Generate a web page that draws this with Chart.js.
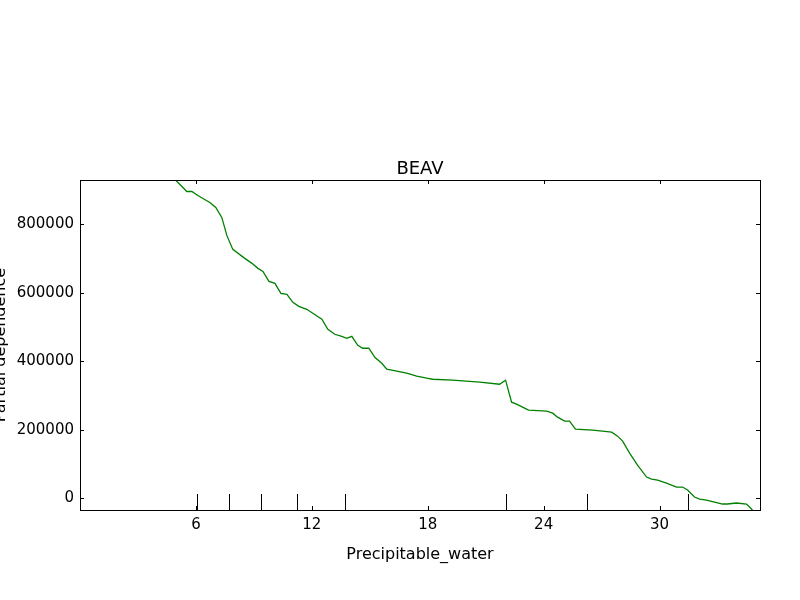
<!DOCTYPE html>
<html>
<head>
<meta charset="utf-8">
<script src="https://cdn.jsdelivr.net/npm/chart.js@4/dist/chart.umd.min.js"></script>
<style>body{margin:0;background:#fff}#wrap{width:800px;height:600px}</style>
</head>
<body>
<div id="wrap"><canvas id="c"></canvas></div>
<script>
// partial dependence curve for Precipitable_water
const xVals = [4.7, 5.02, 5.53, 5.79, 6.10, 6.72, 7.03, 7.34, 7.60, 7.91, 8.53, 8.90, 9.21, 9.47, 9.78, 10.09, 10.40, 10.71, 11.02, 11.33, 11.74, 12.05, 12.52, 12.83, 13.19, 13.55, 13.81, 14.07, 14.38, 14.64, 14.95, 15.26, 15.62, 15.88, 16.40, 16.91, 17.43, 17.95, 18.26, 19.29, 20.69, 21.72, 22.03, 22.34, 22.60, 22.91, 23.22, 24.16, 24.47, 24.72, 25.09, 25.34, 25.65, 26.53, 27.05, 27.52, 27.83, 28.09, 28.45, 28.86, 29.33, 29.59, 29.90, 30.36, 30.88, 31.19, 31.45, 31.81, 32.07, 32.43, 32.85, 33.26, 33.52, 33.98, 34.50, 34.66, 34.81];
const yVals = [945000, 925600, 896400, 896400, 884800, 864300, 849700, 820500, 768000, 727100, 700800, 686200, 671600, 662800, 633600, 627800, 598600, 595700, 572300, 560600, 551900, 540200, 522700, 493500, 478900, 473000, 467200, 473000, 446800, 438000, 438000, 411700, 394200, 376700, 370800, 365000, 356200, 350400, 347400, 344600, 338700, 332800, 344600, 280300, 274400, 265700, 257000, 254000, 248200, 236500, 224800, 224800, 201500, 198600, 195600, 192700, 181000, 166400, 131400, 96400, 61300, 55500, 52600, 43800, 32100, 32100, 23400, 2900, -2900, -5800, -11700, -17500, -17500, -14600, -17500, -26300, -35000];
// deciles shown as rug marks
const deciles = [6.05, 7.71, 9.36, 11.23, 13.71, 22.04, 26.23, 31.45];
const xTicks = [6, 12, 18, 24, 30];
const yTicks = [0, 200000, 400000, 600000, 800000];

const FONT = 'DejaVu Sans';
const framePlugin = {
  id: 'frame',
  afterDraw(chart) {
    const {ctx, chartArea: a, scales: {x, y}} = chart;
    ctx.save();
    ctx.strokeStyle = '#000';
    ctx.lineWidth = 1;
    ctx.strokeRect(a.left + 0.5, a.top + 0.5, a.right - a.left, a.bottom - a.top);
    ctx.beginPath();
    xTicks.forEach(v => {
      const px = Math.round(x.getPixelForValue(v)) + 0.5;
      ctx.moveTo(px, a.bottom); ctx.lineTo(px, a.bottom - 4);
      ctx.moveTo(px, a.top); ctx.lineTo(px, a.top + 4);
    });
    yTicks.forEach(v => {
      const py = Math.round(y.getPixelForValue(v)) + 0.5;
      ctx.moveTo(a.left, py); ctx.lineTo(a.left + 4, py);
      ctx.moveTo(a.right, py); ctx.lineTo(a.right - 4, py);
    });
    deciles.forEach(v => {
      const px = Math.round(x.getPixelForValue(v)) + 0.5;
      ctx.moveTo(px, a.bottom); ctx.lineTo(px, a.bottom - 16);
    });
    ctx.stroke();
    ctx.fillStyle = '#000';
    ctx.font = '18px ' + FONT;
    ctx.textAlign = 'center';
    ctx.textBaseline = 'alphabetic';
    ctx.fillText('BEAV', (a.left + a.right) / 2, a.top - 6);
    ctx.translate(1, (a.top + a.bottom) / 2);
    ctx.rotate(-Math.PI / 2);
    ctx.font = '16px ' + FONT;
    ctx.textBaseline = 'middle';
    ctx.fillText('Partial dependence', 0, 0);
    ctx.restore();
  }
};

new Chart(document.getElementById('c'), {
  type: 'line',
  data: {
    datasets: [{
      data: xVals.map((v, i) => ({x: v, y: yVals[i]})),
      borderColor: '#008000',
      borderWidth: 1.3,
      pointRadius: 0,
      tension: 0,
      fill: false
    }]
  },
  options: {
    responsive: true,
    maintainAspectRatio: false,
    animation: false,
    layout: {padding: {top: 180, right: 40, left: 0, bottom: 0}},
    plugins: {legend: {display: false}, tooltip: {enabled: false}},
    scales: {
      x: {
        type: 'linear', min: 0, max: 35.2,
        afterBuildTicks: s => { s.ticks = xTicks.map(v => ({value: v})); },
        afterFit: s => { s.height = 90; },
        grid: {display: false, drawTicks: false},
        border: {display: false},
        ticks: {color: '#000', font: {family: FONT, size: 15}, padding: 6, callback: v => String(v)},
        title: {display: true, text: 'Precipitable_water', color: '#000', font: {family: FONT, size: 16}, padding: {top: 0, bottom: 36}}
      },
      y: {
        type: 'linear', min: -35000, max: 930000,
        afterBuildTicks: s => { s.ticks = yTicks.map(v => ({value: v})); },
        afterFit: s => { s.width = 80; },
        grid: {display: false, drawTicks: false},
        border: {display: false},
        ticks: {color: '#000', font: {family: FONT, size: 15}, padding: 6, callback: v => String(v)}
      }
    }
  },
  plugins: [framePlugin]
});
</script>
</body>
</html>
